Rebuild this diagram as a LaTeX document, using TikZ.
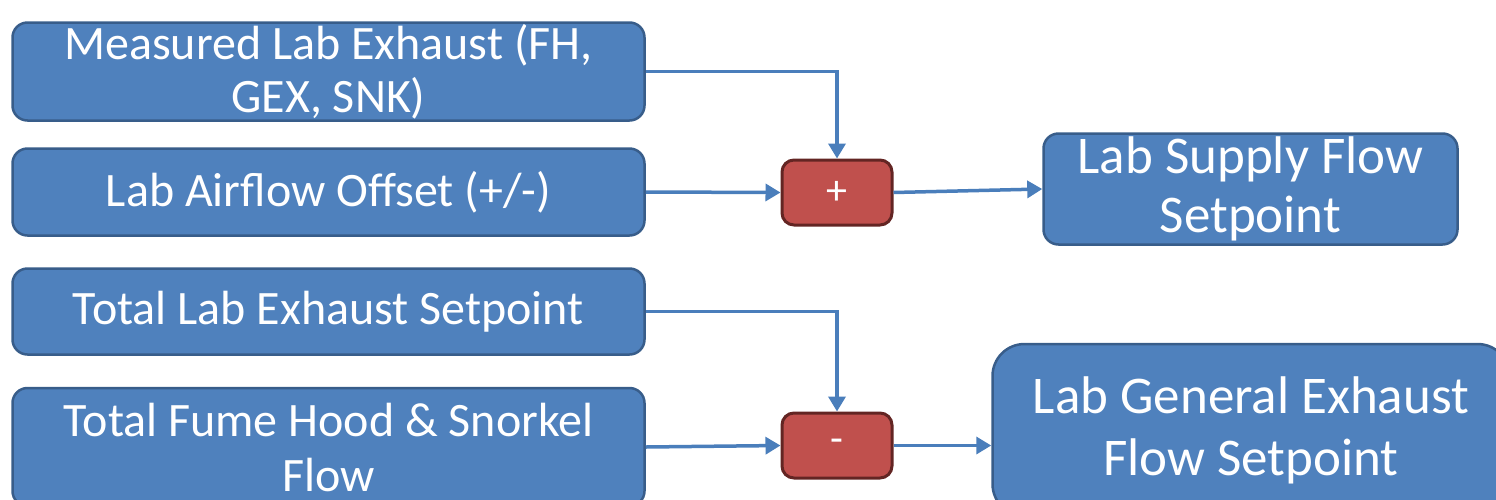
\documentclass[tikz,border=0pt]{standalone}
\usepackage{fontspec}
\setmainfont{Carlito}
\usetikzlibrary{arrows.meta}
\definecolor{boxfill}{HTML}{4F81BD}
\definecolor{boxline}{HTML}{385D8A}
\definecolor{redfill}{HTML}{C0504D}
\definecolor{redline}{HTML}{632523}
\definecolor{conn}{HTML}{4A7EBB}
\tikzset{
  bluebox/.style={draw=boxline, fill=boxfill, line width=2.5pt, rounded corners=15pt,
    text=white, align=center, inner sep=0pt, font=\fontsize{48}{55}\selectfont},
  opbox/.style={draw=redline, fill=redfill, line width=3pt, rounded corners=12pt,
    text=white, inner sep=0pt, minimum width=110pt, minimum height=65pt, font=\fontsize{42}{48}\selectfont},
  conn/.style={draw=conn, line width=3.5pt, -{Triangle[length=15pt,width=17pt]}}
}
\begin{document}
\begin{tikzpicture}[x=1pt,y=-1pt]
\useasboundingbox (0,0) rectangle (1496,499);
\clip (0,0) rectangle (1496,499);
\node[bluebox, minimum width=632pt, minimum height=98pt] (A) at (328.5,71.5) {\raisebox{-2pt}{Measured Lab Exhaust (FH,}\\GEX, SNK)};
\node[bluebox, minimum width=632pt, minimum height=87pt] (B) at (328.5,192) {Lab Airflow Offset (+/-)};
\node[bluebox, minimum width=632pt, minimum height=86pt] (C) at (328.5,311.5) {Total Lab Exhaust Setpoint};
\node[bluebox, minimum width=632pt, minimum height=118pt] (D) at (328.5,447) {Total Fume Hood \& Snorkel\\Flow};
\node[opbox] (plus) at (837,192.5) {\raisebox{-4pt}{+}};
\node[opbox] (minus) at (837,445.5) {\raisebox{-5pt}{-}};
\node[bluebox, minimum width=414pt, minimum height=111pt, font=\fontsize{53}{62}\selectfont] (S) at (1250.5,189) {\raisebox{-3pt}{Lab Supply Flow}\\Setpoint};
\node[bluebox, minimum width=517pt, minimum height=172pt, rounded corners=32pt, font=\fontsize{53}{62}\selectfont] (G) at (1251,430) {Lab General Exhaust\\Flow Setpoint};
\draw[conn] (A.east) -| (plus.north);
\draw[conn] (B.east) -- (plus.west);
\draw[conn] (plus.east) -- (S.west);
\draw[conn] (C.east) -| (minus.north);
\draw[conn] (D.east) -- (minus.west);
\draw[conn] (minus.east) -- (minus.east -| G.west);
\end{tikzpicture}
\end{document}
